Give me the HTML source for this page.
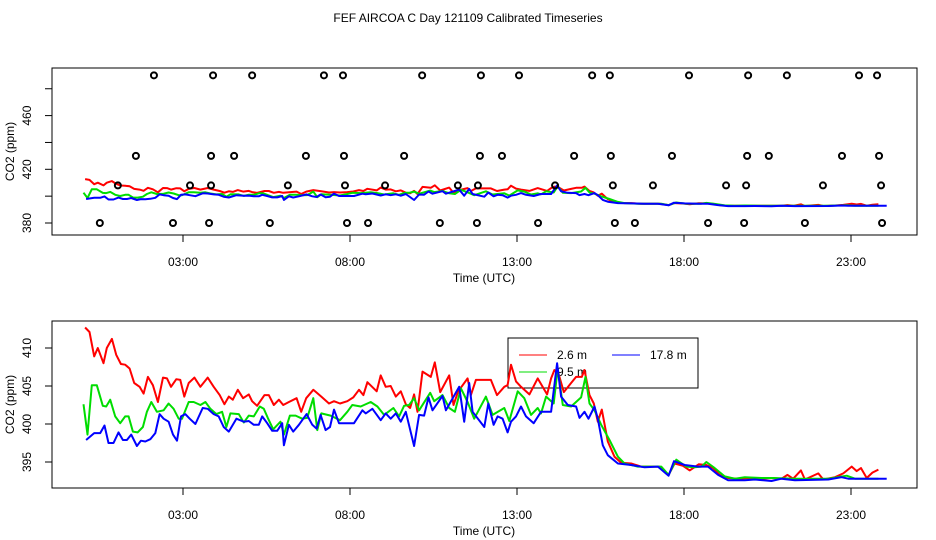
<!DOCTYPE html>
<html><head><meta charset="utf-8"><style>
body{margin:0;background:#fff}
svg{display:block;font-family:"Liberation Sans",sans-serif}
</style></head><body>
<svg id="chart" width="936" height="540" viewBox="0 0 936 540" xmlns="http://www.w3.org/2000/svg">
<rect width="936" height="540" fill="#fff"/>
<text x="468" y="22" font-size="12" text-anchor="middle">FEF AIRCOA C  Day 121109  Calibrated Timeseries</text>
<g id="top"></g><g id="bot"></g>
</svg>
<script>
const xTickHours=[3,8,13,18,23];
const xTickLabels=["03:00","08:00","13:00","18:00","23:00"];
const redT=[0.07,0.20,0.34,0.45,0.62,0.72,0.87,1.00,1.14,1.27,1.40,1.54,1.70,1.82,1.95,2.10,2.25,2.40,2.52,2.64,2.80,2.92,3.04,3.17,3.34,3.52,3.74,3.92,4.10,4.24,4.37,4.49,4.64,4.80,4.97,5.07,5.22,5.44,5.57,5.72,5.87,6.00,6.17,6.40,6.54,6.69,6.90,7.14,7.37,7.52,7.70,7.92,8.10,8.27,8.40,8.52,8.80,8.92,9.07,9.22,9.37,9.52,9.67,9.80,9.92,10.02,10.17,10.42,10.54,10.70,10.97,11.10,11.24,11.52,11.62,11.77,12.02,12.22,12.40,12.62,12.72,12.82,12.97,13.12,13.37,13.62,13.90,14.02,14.12,14.24,14.40,14.62,14.77,14.94,15.02,15.17,15.30,15.42,15.54,15.72,15.92,16.12,16.42,16.72,17.02,17.27,17.54,17.72,17.97,18.17,18.44,18.67,18.87,19.07,19.32,19.62,20.02,20.32,20.62,20.92,21.10,21.27,21.50,21.62,22.02,22.17,22.52,22.77,23.02,23.17,23.30,23.47,23.64,23.82];
const redV=[412.7,412.1,408.9,410.0,408.0,410.0,411.2,409.1,407.9,407.8,407.3,405.4,404.9,404.0,406.2,405.1,402.9,406.1,406.0,404.9,405.9,405.8,403.6,405.4,406.1,404.9,406.1,404.9,403.8,402.6,403.6,403.2,404.5,403.4,403.9,403.0,402.4,403.8,403.8,402.5,403.2,402.5,402.9,403.4,401.6,403.4,404.5,403.6,402.7,403.0,402.7,403.0,403.5,404.5,403.8,405.5,404.3,406.4,404.9,405.0,403.6,404.3,402.6,402.1,403.9,401.6,406.9,406.2,408.1,404.2,406.4,402.5,404.3,406.0,403.8,405.8,405.8,405.8,403.8,404.9,405.1,407.8,405.6,404.9,403.9,406.0,403.9,406.0,407.1,406.7,404.2,405.4,406.2,406.2,407.1,403.8,402.7,400.3,401.9,397.7,395.7,394.9,394.8,394.4,394.4,394.4,393.3,394.8,394.5,393.9,394.7,394.6,394.2,393.3,392.9,392.8,392.9,392.8,392.9,392.8,393.3,392.8,393.9,392.7,393.5,392.7,393.0,393.5,394.4,393.8,394.2,392.9,393.6,394.0];
const greenT=[0.02,0.14,0.27,0.42,0.60,0.70,0.82,0.97,1.12,1.27,1.37,1.50,1.64,1.80,1.92,2.05,2.22,2.42,2.57,2.72,2.87,2.97,3.17,3.32,3.52,3.67,3.82,4.00,4.17,4.30,4.42,4.67,4.82,4.97,5.12,5.30,5.42,5.54,5.70,5.92,6.02,6.20,6.37,6.57,6.72,6.90,7.02,7.14,7.42,7.70,7.92,8.07,8.32,8.62,8.82,9.02,9.30,9.47,9.62,9.77,9.92,10.07,10.40,10.52,10.77,10.97,11.14,11.32,11.52,11.72,12.07,12.27,12.62,12.77,13.02,13.22,13.42,13.62,13.72,13.87,14.10,14.22,14.37,14.62,14.92,15.05,15.17,15.32,15.52,15.77,16.02,16.22,16.62,17.02,17.32,17.54,17.77,18.07,18.32,18.52,18.67,18.92,19.22,19.52,19.82,20.32,20.67,21.32,22.32,22.87,23.12,23.82];
const greenV=[402.6,398.6,405.1,405.1,402.4,402.3,403.2,401.0,400.1,401.0,401.0,399.0,398.9,399.6,401.6,402.9,401.6,401.8,402.7,402.0,400.7,400.7,402.9,402.9,402.5,402.9,402.0,401.3,401.6,399.6,401.4,401.3,400.2,401.1,401.0,402.3,402.0,400.8,399.3,400.3,398.6,401.1,401.1,400.7,400.8,403.4,399.2,401.4,401.1,400.5,401.6,402.5,402.3,402.9,402.3,401.2,402.1,401.0,402.4,402.5,403.4,401.8,404.1,403.0,403.8,402.1,401.6,404.7,402.9,400.7,403.6,401.2,402.1,400.4,404.3,403.4,401.2,402.1,401.4,403.6,402.7,407.3,402.5,402.3,403.5,406.2,402.7,401.8,399.9,397.9,395.7,394.8,394.4,394.4,394.4,393.3,395.3,394.4,394.3,394.4,395.0,394.2,393.1,392.8,393.0,392.9,392.9,392.8,392.8,393.2,392.8,392.8];
const blueT=[0.10,0.34,0.52,0.65,0.77,0.92,1.07,1.20,1.32,1.45,1.62,1.74,1.87,2.02,2.17,2.30,2.42,2.57,2.70,2.82,2.94,3.07,3.20,3.37,3.59,3.74,3.92,4.07,4.22,4.37,4.60,4.82,4.97,5.12,5.27,5.37,5.52,5.67,5.82,5.97,6.02,6.17,6.30,6.47,6.70,6.87,7.00,7.12,7.27,7.40,7.52,7.67,7.82,8.12,8.37,8.47,8.67,8.92,9.07,9.22,9.37,9.52,9.67,9.92,10.07,10.22,10.35,10.47,10.77,10.87,11.27,11.42,11.57,11.67,12.02,12.14,12.30,12.42,12.57,12.72,12.82,12.97,13.12,13.27,13.50,13.72,13.92,14.02,14.20,14.32,14.52,14.77,14.87,15.02,15.14,15.32,15.42,15.57,15.72,16.02,16.42,16.82,17.22,17.54,17.70,18.02,18.42,18.72,19.02,19.32,19.82,20.12,20.62,20.92,21.32,22.32,22.72,22.92,24.07];
const blueV=[397.9,398.8,398.8,399.8,397.5,397.5,398.9,397.9,397.9,398.6,397.1,397.8,397.7,398.0,398.8,401.3,400.7,400.3,398.6,397.8,401.0,401.3,400.7,400.0,402.1,402.0,401.3,401.0,399.6,399.0,400.7,400.3,400.4,399.9,399.9,401.0,400.1,399.1,399.1,400.1,397.2,399.9,399.0,399.9,401.3,399.9,399.4,401.2,399.2,399.6,401.9,400.1,400.1,400.1,401.8,401.4,402.0,400.5,401.4,400.7,401.4,400.3,401.6,397.1,401.2,401.1,403.5,401.8,403.7,401.8,404.9,400.3,405.4,401.6,399.6,402.7,399.9,401.0,400.7,398.9,400.3,401.0,402.3,401.0,400.1,401.6,401.6,401.6,408.0,403.6,402.5,402.3,400.8,401.6,400.7,402.3,400.7,397.2,395.9,394.8,394.6,394.3,394.4,393.2,395.1,394.6,394.4,394.4,393.3,392.6,392.6,392.7,392.5,392.8,392.6,392.7,393.0,392.8,392.8];
const flagT490=[2.13,3.90,5.07,7.22,7.79,10.16,11.92,13.06,15.25,15.78,18.15,19.92,21.08,23.24,23.78];
const flagT430=[1.59,3.84,4.53,6.68,7.82,9.62,11.89,12.55,14.71,15.81,17.64,19.89,20.54,22.73,23.84];
const flagT408=[1.05,3.21,3.84,6.14,7.85,9.05,11.23,11.83,14.14,15.87,17.07,19.26,19.86,22.16,23.90];
const flagT380=[0.51,2.70,3.78,5.60,7.91,8.54,10.69,11.80,13.63,15.93,16.53,18.72,19.80,21.62,23.93];
const flagLevels=[490,430,408,380];
const topYTicks=[380,400,420,440,460,480];
const topYLabels=["380","","420","","460",""];
const botYTicks=[395,400,405,410];
const botYLabels=["395","400","405","410"];

const NS="http://www.w3.org/2000/svg";
function mk(parent,tag,attrs){const e=document.createElementNS(NS,tag);for(const k in attrs)e.setAttribute(k,attrs[k]);parent.appendChild(e);return e;}
const xs=h=>82.8+h*33.4;

function panel(g,top,bottom,yFn,yTicks,yLabels,prefix){
  const frame=mk(g,'rect',{x:52,y:top,width:865,height:bottom-top,fill:'none',stroke:'#000','stroke-width':1});
  
  
  xTickHours.forEach((h,i)=>{
    const l=mk(g,'line',{x1:xs(h),x2:xs(h),y1:bottom,y2:bottom+7,stroke:'#000'});
    
    
    const t=mk(g,'text',{x:xs(h),y:bottom+31,'font-size':12,'text-anchor':'middle'});
    t.textContent=xTickLabels[i];
    
    
  });
  yTicks.forEach((v,i)=>{
    const y=yFn(v);
    const l=mk(g,'line',{x1:45,x2:52,y1:y,y2:y,stroke:'#000'});
    
    
    if(yLabels[i]){
      const t=mk(g,'text',{x:31,y:y,'font-size':12,'text-anchor':'middle',transform:`rotate(-90 31 ${y})`});
      t.textContent=yLabels[i];
      
      
    }
  });
  const xt=mk(g,'text',{x:484,y:bottom+47,'font-size':12,'text-anchor':'middle'});
  xt.textContent='Time (UTC)';
  
  
  const cy=(top+bottom)/2;
  const yt=mk(g,'text',{x:14,y:cy,'font-size':12,'text-anchor':'middle',transform:`rotate(-90 14 ${cy})`});
  yt.textContent='CO2 (ppm)';
  
  
  const series=[[redT,redV,'#f00','red'],[greenT,greenV,'#0d0','green'],[blueT,blueV,'#00f','blue']];
  series.forEach(([T,V,c,n])=>{
    const d=T.map((t,i)=>(i?'L':'M')+xs(t).toFixed(1)+','+yFn(V[i]).toFixed(1)).join('');
    const p=mk(g,'path',{d:d,fill:'none',stroke:c,'stroke-width':2,'stroke-linejoin':'round'});
    
    
  });
}
const topY=v=>223-(v-380)*1.3425;
const botY=v=>424-(v-400)*7.6;
panel(document.getElementById('top'),68,235,topY,topYTicks,topYLabels,'top');

const bg=document.getElementById('bot');
const lg=mk(bg,'g',{});


mk(lg,'rect',{x:508,y:338,width:190,height:50,fill:'none',stroke:'#000'});
const entries=[[519,355,'#f00','2.6 m',557],[612,355,'#00f','17.8 m',650],[519,372,'#0d0','9.5 m',557]];
entries.forEach(([x,y,c,label,tx])=>{
  const l=mk(lg,'line',{x1:x,x2:x+28,y1:y,y2:y,stroke:c,'stroke-width':1});
  
  
  const t=mk(lg,'text',{x:tx,y:y+4,'font-size':12});
  t.textContent=label;
  
  
});
panel(bg,321,488,botY,botYTicks,botYLabels,'bottom');

const tg=document.getElementById('top');
[flagT490,flagT430,flagT408,flagT380].forEach((arr,k)=>{
  arr.forEach(t=>{
    const c=mk(tg,'circle',{cx:xs(t),cy:topY(flagLevels[k]),r:3,fill:'none',stroke:'#000','stroke-width':2});
    
    
  });
});
</script>
</body></html>
